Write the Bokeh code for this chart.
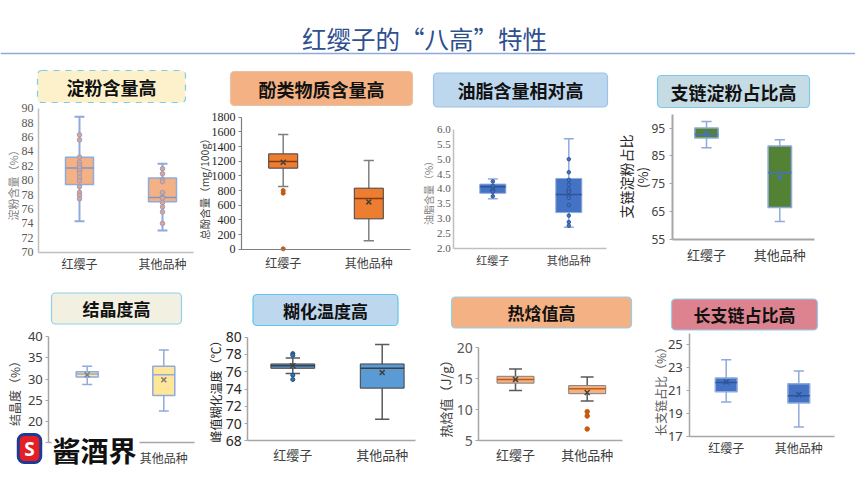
import numpy as np
from bokeh.plotting import figure
from bokeh.models import Range1d, FixedTicker, Label, Span, NumeralTickFormatter
from bokeh.layouts import column, row
from bokeh.embed import file_html
from bokeh.resources import INLINE

# ---------------- data ----------------
categories = ["红缨子", "其他品种"]
page_title = "红缨子的“八高”特性"

starch_title = "淀粉含量高"
starch_ylabel = "淀粉含量（%）"
starch_low = [74.3, 73.0]
starch_q1 = [79.4, 77.0]
starch_med = [81.7, 77.6]
starch_q3 = [83.2, 80.3]
starch_high = [88.8, 82.3]
starch_mean = [81.6, 78.0]
starch_pts_hyz = [86.3, 85.6, 83.2, 82.5, 82.1, 81.7, 81.3, 80.9, 80.4, 79.9, 79.1, 78.3, 77.9, 77.4]
starch_pts_other = [81.6, 80.9, 80.1, 79.8, 78.3, 77.5, 76.9, 76.3, 75.6, 74.0]
starch_ticks = [70, 72, 74, 76, 78, 80, 82, 84, 86, 88, 90]

phenol_title = "酚类物质含量高"
phenol_ylabel = "总酚含量（mg/100g）"
phenol_low = [855, 114]
phenol_q1 = [1105, 414]
phenol_med = [1195, 691]
phenol_q3 = [1300, 832]
phenol_high = [1564, 1209]
phenol_mean = [1186, 645]
phenol_out_hyz = [800, 764, 5]
phenol_ticks = [0, 200, 400, 600, 800, 1000, 1200, 1400, 1600, 1800]

oil_title = "油脂含量相对高"
oil_ylabel = "油脂含量（%）"
oil_low = [3.67, 2.71]
oil_q1 = [3.85, 3.20]
oil_med = [4.07, 3.81]
oil_q3 = [4.16, 4.35]
oil_high = [4.33, 5.69]
oil_mean = [4.02, 3.85]
oil_pts_hyz = [4.25, 4.10, 4.00, 3.95, 3.90, 3.75]
oil_pts_other = [5.00, 4.56, 4.30, 4.15, 4.00, 3.90, 3.70, 3.45, 3.10, 2.88, 2.76]
oil_ticks = [2.0, 2.5, 3.0, 3.5, 4.0, 4.5, 5.0, 5.5, 6.0]

amylopectin_title = "支链淀粉占比高"
amylopectin_ylabel = "支链淀粉占比"
amylopectin_ylabel2 = "(%)"
amylopectin_low = [88.0, 61.4]
amylopectin_q1 = [91.5, 66.4]
amylopectin_med = [92.7, 79.0]
amylopectin_q3 = [95.1, 88.6]
amylopectin_high = [97.4, 90.8]
amylopectin_mean = [93.1, 77.3]
amylopectin_ticks = [55, 65, 75, 85, 95]

cryst_title = "结晶度高"
cryst_ylabel = "结晶度（%）"
cryst_low = [28.7, 22.5]
cryst_q1 = [30.5, 26.1]
cryst_med = [31.2, 31.0]
cryst_q3 = [31.7, 33.0]
cryst_high = [33.0, 36.8]
cryst_mean = [31.0, 29.8]
cryst_ticks = [15, 20, 25, 30, 35, 40]

gel_title = "糊化温度高"
gel_ylabel = "峰值糊化温度（℃）"
gel_low = [75.8, 70.5]
gel_q1 = [76.4, 74.1]
gel_med = [76.7, 76.4]
gel_q3 = [76.9, 76.9]
gel_high = [77.6, 79.15]
gel_mean = [76.7, 75.9]
gel_out_hyz = [78.1, 77.9, 75.6, 75.1]
gel_ticks = [68, 70, 72, 74, 76, 78, 80]

enth_title = "热焓值高"
enth_ylabel = "热焓值（J/g）"
enth_low = [13.1, 11.4]
enth_q1 = [14.3, 12.6]
enth_med = [14.9, 13.4]
enth_q3 = [15.4, 13.9]
enth_high = [16.6, 15.3]
enth_mean = [14.9, 12.8]
enth_out_other = [9.7, 9.0, 6.9]
enth_ticks = [5, 10, 15, 20]

amylose_title = "长支链占比高"
amylose_ylabel = "长支链占比（%）"
amylose_low = [20.0, 17.8]
amylose_q1 = [20.9, 19.9]
amylose_med = [21.7, 20.55]
amylose_q3 = [22.1, 21.6]
amylose_high = [23.7, 22.7]
amylose_mean = [21.75, 20.65]
amylose_ticks = [17, 19, 21, 23, 25]

logo_text = "酱酒界"

CJK = "Noto Sans CJK SC"
XS = np.arange(1, len(categories) + 1)


class Panel:
    """A figure whose frame covers the whole cell; axes are placed inside it."""

    def __init__(self, cell, xa, ya, axis_px, yext):
        cx0, cy0, cx1, cy1 = cell
        a1, a2 = xa
        (py_lo, v_lo), (py_hi, v_hi) = ya
        axl, axr = axis_px
        self.cx0, self.cy1 = cx0, cy1
        ppx = a2 - a1
        ppy = (py_lo - py_hi) / (v_hi - v_lo)
        xs = 1 - (a1 - cx0) / ppx
        xe = 2 + (cx1 - a2) / ppx
        ys = v_lo - (cy1 - py_lo) / ppy
        ye = v_hi + (py_hi - cy0) / ppy
        p = figure(width=cx1 - cx0, height=cy1 - cy0,
                   min_border=0, min_border_left=0, min_border_right=0,
                   min_border_top=0, min_border_bottom=0,
                   x_range=Range1d(xs, xe), y_range=Range1d(ys, ye),
                   output_backend="svg", toolbar_location=None, tools="")
        p.xgrid.visible = False
        p.ygrid.visible = False
        p.outline_line_color = None
        p.border_fill_color = "white"
        self.p = p
        self.xl = 1 + (axl - a1) / ppx
        self.xr = 1 + (axr - a1) / ppx
        self.ymin, self.ymax = yext

    def sx(self, px):
        return px - self.cx0

    def sy(self, py):
        return self.cy1 - py


def style_axes(pn, yticks, st):
    p = pn.p
    xa = p.xaxis[0]
    ya = p.yaxis[0]
    xa.fixed_location = pn.ymin
    xa.bounds = (pn.xl, pn.xr)
    ya.fixed_location = pn.xl
    ya.bounds = (pn.ymin, pn.ymax)
    xa.ticker = FixedTicker(ticks=list(XS))
    xa.major_label_overrides = {int(x): c for x, c in zip(XS, categories)}
    xa.major_tick_line_color = None
    xa.minor_tick_line_color = None
    xa.major_label_standoff = st["xstand"]
    xa.major_label_text_font = CJK
    xa.major_label_text_font_size = st["xfs"]
    xa.major_label_text_color = "#404040"
    ya.ticker = FixedTicker(ticks=yticks)
    ya.minor_tick_line_color = None
    ya.major_tick_in = 0
    ya.major_tick_out = st["tick"]
    ya.major_tick_line_color = st["axis"]
    ya.major_label_standoff = st["ystand"]
    ya.major_label_text_font = st["yfont"]
    ya.major_label_text_font_size = st["yfs"]
    ya.major_label_text_color = st["ycol"]
    for a in (xa, ya):
        a.axis_line_color = st["axis"]
        a.axis_line_width = st["aw"]


def draw_box(pn, low, q1, med, q3, high, mean, st):
    p = pn.p
    bw = st["bw"]
    cw = st["cw"]
    p.segment(XS, q3, XS, high, line_color=st["wc"], line_width=st["ww"])
    p.segment(XS, low, XS, q1, line_color=st["wc"], line_width=st["ww"])
    p.segment(XS - cw / 2, high, XS + cw / 2, high, line_color=st["wc"], line_width=st["ww"])
    p.segment(XS - cw / 2, low, XS + cw / 2, low, line_color=st["wc"], line_width=st["ww"])
    p.vbar(x=XS, width=bw, bottom=q1, top=q3, fill_color=st["fill"],
           line_color=st["bc"], line_width=st["bl"])
    p.segment(XS - bw / 2, med, XS + bw / 2, med, line_color=st["mc"], line_width=1.5)
    p.scatter(XS, mean, marker="x", size=7, line_color=st["xc"], line_width=1.5)


def draw_points(pn, idx, pts, fill, line, size):
    pn.p.scatter(np.full(len(pts), XS[idx]), pts, marker="circle", size=size,
                 fill_color=fill, line_color=line, line_width=1)


def panel_title(pn, text, cx, cy, fs, fill, border, ph, pv, dash="solid"):
    pn.p.add_layout(Label(x=pn.sx(cx), y=pn.sy(cy), x_units="screen", y_units="screen",
                          text=text, text_font=CJK, text_font_style="bold",
                          text_font_size=fs, text_color="#111111",
                          text_align="center", text_baseline="middle",
                          background_fill_color=fill, border_line_color=border,
                          border_line_width=1.2, border_line_dash=dash, border_radius=4,
                          padding=dict(left=ph, right=ph, top=pv, bottom=pv)))


def ylabel(pn, text, cx, cy, fs, color):
    pn.p.add_layout(Label(x=pn.sx(cx), y=pn.sy(cy), x_units="screen", y_units="screen",
                          text=text, angle=np.pi / 2, text_font=CJK, text_font_size=fs,
                          text_color=color, text_align="center", text_baseline="middle"))


# ---------------- page title ----------------
tf = figure(width=855, height=60, min_border=0, min_border_left=0, min_border_right=0,
            min_border_top=0, min_border_bottom=0, x_range=Range1d(0, 855),
            y_range=Range1d(0, 60), x_axis_type=None, y_axis_type=None,
            output_backend="svg", toolbar_location=None, tools="")
tf.outline_line_color = None
tf.add_layout(Span(location=7, dimension="width", line_color="#8eaadb", line_width=1.5))
tf.add_layout(Label(x=424, y=22, x_units="screen", y_units="screen", text=page_title,
                    text_font=CJK, text_font_size="24.5px", text_color="#2f4f8f",
                    text_align="center", text_baseline="middle"))

# ---------------- panel 1 ----------------
st1 = dict(fill="#f4b183", bc="#8faadc", bl=1.5, wc="#8faadc", ww=2, mc="#7f96c8",
           xc="#7f96c8", bw=0.337, cw=0.12, axis="#bfbfbf", aw=1.5, tick=0,
           ystand=5, yfont="Liberation Serif", yfs="12px", ycol="#595959",
           xstand=-3, xfs="12px")
p1 = Panel((0, 60, 197, 280), (79, 162), ((251.7, 70), (107.7, 90)), (38, 193), (70, 90))
style_axes(p1, starch_ticks, st1)
draw_box(p1, starch_low, starch_q1, starch_med, starch_q3, starch_high, starch_mean, st1)
draw_points(p1, 0, starch_pts_hyz, "#e0a58a", "#9a9ac0", 4.5)
draw_points(p1, 1, starch_pts_other, "#e0a58a", "#9a9ac0", 4.5)
panel_title(p1, starch_title, 111, 86, "18px", "#fdf1cc", "#7ccbe8", 29, 3, "dashed")
ylabel(p1, starch_ylabel, 12, 182, "11px", "#7f7f7f")

# ---------------- panel 2 ----------------
st2 = dict(fill="#ed7d31", bc="#404040", bl=1, wc="#7f7f7f", ww=1.5, mc="#843c0c",
           xc="#404040", bw=0.339, cw=0.12, axis="#7f7f7f", aw=1.2, tick=3,
           ystand=3, yfont="Liberation Serif", yfs="12px", ycol="#262626",
           xstand=-1, xfs="12px")
p2 = Panel((197, 60, 420, 280), (282.7, 368.3), ((248.7, 0), (116.7, 1800)), (241, 410), (0, 1800))
style_axes(p2, phenol_ticks, st2)
draw_box(p2, phenol_low, phenol_q1, phenol_med, phenol_q3, phenol_high, phenol_mean, st2)
draw_points(p2, 0, phenol_out_hyz, "#c55a11", "#c55a11", 4)
panel_title(p2, phenol_title, 321, 88, "18px", "#f4b183", "#e6c3a6", 28, 4)
ylabel(p2, phenol_ylabel, 204, 186, "10.5px", "#404040")

# ---------------- panel 3 ----------------
st3 = dict(fill="#4472c4", bc="#8faadc", bl=1, wc="#8faadc", ww=1.5, mc="#2f5597",
           xc="#2f5597", bw=0.342, cw=0.13, axis="#bfbfbf", aw=1.5, tick=0,
           ystand=3, yfont="Liberation Serif", yfs="11px", ycol="#595959",
           xstand=-2, xfs="11px")
p3 = Panel((420, 60, 615, 280), (492.3, 568.3), ((247.7, 2), (129, 6)), (453.3, 606), (2, 6))
style_axes(p3, oil_ticks, st3)
p3.p.yaxis[0].formatter = NumeralTickFormatter(format="0.0")
draw_box(p3, oil_low, oil_q1, oil_med, oil_q3, oil_high, oil_mean, st3)
draw_points(p3, 0, oil_pts_hyz, "#4472c4", "#2f5597", 3.5)
draw_points(p3, 1, oil_pts_other, "#4472c4", "#2f5597", 3.5)
panel_title(p3, oil_title, 520, 89.5, "18px", "#bdd7ee", "#9dc3e6", 24, 4)
ylabel(p3, oil_ylabel, 428, 190, "10px", "#7f7f7f")

# ---------------- panel 4 ----------------
st4 = dict(fill="#548235", bc="#8faadc", bl=1.5, wc="#8faadc", ww=1.5, mc="#4472c4",
           xc="#4472c4", bw=0.32, cw=0.14, axis="#a6a6a6", aw=2, tick=3,
           ystand=4, yfont="Noto Sans", yfs="12px", ycol="#404040",
           xstand=0, xfs="13px")
p4 = Panel((615, 60, 855, 280), (706, 779.3), ((238.7, 55), (127.7, 95)), (671.7, 814), (55, 100))
style_axes(p4, amylopectin_ticks, st4)
draw_box(p4, amylopectin_low, amylopectin_q1, amylopectin_med, amylopectin_q3,
         amylopectin_high, amylopectin_mean, st4)
panel_title(p4, amylopectin_title, 733, 91, "18px", "#c6dce5", "#7fc8e8", 13, 3)
ylabel(p4, amylopectin_ylabel, 625, 176, "14px", "#262626")
ylabel(p4, amylopectin_ylabel2, 642, 177, "13px", "#262626")

# ---------------- panel 5 ----------------
st5 = dict(fill="#ffe699", bc="#8faadc", bl=1.5, wc="#8faadc", ww=1.5, mc="#8faadc",
           xc="#7f7f7f", bw=0.287, cw=0.13, axis="#a6a6a6", aw=1.5, tick=3,
           ystand=3, yfont="Noto Sans", yfs="13px", ycol="#404040",
           xstand=0, xfs="12px")
p5 = Panel((0, 280, 203, 480), (86.7, 163.3), ((421, 20), (336, 40)), (48.3, 194), (15, 40))
style_axes(p5, cryst_ticks, st5)
draw_box(p5, cryst_low, cryst_q1, cryst_med, cryst_q3, cryst_high, cryst_mean, st5)
panel_title(p5, cryst_title, 116, 308, "17px", "#f2f0e1", "#8fd0ee", 31, 3)
ylabel(p5, cryst_ylabel, 14, 390, "12px", "#404040")
p5.p.add_layout(Label(x=p5.sx(95), y=p5.sy(449), x_units="screen", y_units="screen",
                      text=logo_text, text_font=CJK, text_font_style="bold",
                      text_font_size="28px", text_color="#111111", text_align="center",
                      text_baseline="middle", background_fill_color="white",
                      padding=dict(left=1, right=3, top=0, bottom=0)))
p5.p.add_layout(Label(x=p5.sx(29), y=p5.sy(448), x_units="screen", y_units="screen",
                      text="S", text_font="Noto Sans", text_font_style="bold",
                      text_font_size="19px", text_color="white", text_align="center",
                      text_baseline="middle", background_fill_color="#e31e25",
                      border_line_color="#1f3a93", border_line_width=3, border_radius=6,
                      padding=dict(left=6, right=6, top=1, bottom=1)))

# ---------------- panel 6 ----------------
st6 = dict(fill="#5b9bd5", bc="#404040", bl=1, wc="#595959", ww=1.5, mc="#404040",
           xc="#404040", bw=0.49, cw=0.16, axis="#a6a6a6", aw=1.5, tick=3,
           ystand=3, yfont="Noto Sans", yfs="14px", ycol="#262626",
           xstand=-2, xfs="13px")
p6 = Panel((203, 280, 425, 480), (292.3, 381.7), ((440.3, 68), (336.7, 80)), (247.3, 415), (68, 80))
style_axes(p6, gel_ticks, st6)
draw_box(p6, gel_low, gel_q1, gel_med, gel_q3, gel_high, gel_mean, st6)
draw_points(p6, 0, gel_out_hyz, "#2e75b6", "#1f4e79", 4)
panel_title(p6, gel_title, 325, 309.5, "17px", "#bdd7ee", "#5fc6ef", 30, 3)
ylabel(p6, gel_ylabel, 215, 388, "12px", "#262626")

# ---------------- panel 7 ----------------
st7 = dict(fill="#f4b183", bc="#7f7f7f", bl=1, wc="#595959", ww=1.5, mc="#c55a11",
           xc="#404040", bw=0.516, cw=0.18, axis="#a6a6a6", aw=1.5, tick=3,
           ystand=3, yfont="Noto Sans", yfs="14px", ycol="#595959",
           xstand=-2, xfs="13px")
p7 = Panel((425, 280, 640, 480), (515, 586.7), ((440.3, 5), (347.3, 20)), (478.3, 621.7), (5, 20))
style_axes(p7, enth_ticks, st7)
draw_box(p7, enth_low, enth_q1, enth_med, enth_q3, enth_high, enth_mean, st7)
draw_points(p7, 1, enth_out_other, "#c55a11", "#c55a11", 4.5)
panel_title(p7, enth_title, 541, 312, "17px", "#f4b183", "#8fd0ee", 56, 3)
ylabel(p7, enth_ylabel, 445, 395, "13px", "#404040")

# ---------------- panel 8 ----------------
st8 = dict(fill="#4472c4", bc="#8faadc", bl=1.5, wc="#8faadc", ww=1.5, mc="#2f5597",
           xc="#2f5597", bw=0.30, cw=0.14, axis="#a6a6a6", aw=1.5, tick=3,
           ystand=4, yfont="Noto Sans", yfs="13px", ycol="#404040",
           xstand=-3, xfs="12px")
p8 = Panel((640, 280, 855, 480), (725.7, 798.3), ((435.7, 17), (344.3, 25)), (689.3, 834), (17, 26))
style_axes(p8, amylose_ticks, st8)
draw_box(p8, amylose_low, amylose_q1, amylose_med, amylose_q3, amylose_high, amylose_mean, st8)
panel_title(p8, amylose_title, 744, 314, "17px", "#dd8390", "#8fd0ee", 22, 3)
ylabel(p8, amylose_ylabel, 660, 388, "12px", "#595959")

layout = column(tf,
                row(p1.p, p2.p, p3.p, p4.p, spacing=0),
                row(p5.p, p6.p, p7.p, p8.p, spacing=0),
                spacing=0)
open("out.html", "w").write(file_html(layout, INLINE))
